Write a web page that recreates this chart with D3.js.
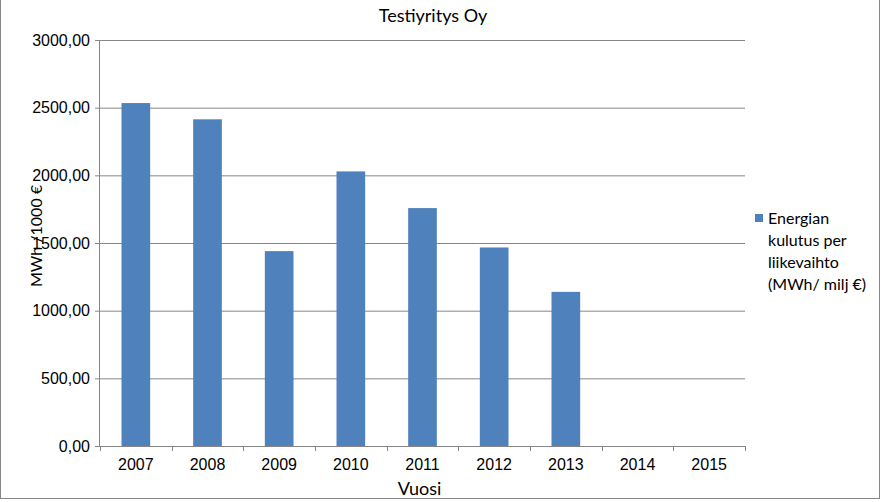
<!DOCTYPE html>
<html>
<head>
<meta charset="utf-8">
<script src="https://cdn.jsdelivr.net/npm/d3@7"></script>
<style>
  body { margin: 0; background: #fff; }
  svg { display: block; font-family: Lato, "Liberation Sans", sans-serif; }
  .axis text { fill: #000; font-size: 16px; }
  .axis path, .axis line { stroke: #868686; }
  .grid line { stroke: #868686; }
  .grid path { display: none; }
</style>
</head>
<body>
<div id="chart"></div>
<script>
// Vuodet ja arvot (MWh / milj €)
const years = ['2007', '2008', '2009', '2010', '2011', '2012', '2013', '2014', '2015'];
const values = [2534, 2414, 1440, 2029, 1758, 1467, 1139, null, null];
const yTicks = [0, 500, 1000, 1500, 2000, 2500, 3000];
const seriesName = ['Energian', 'kulutus per', 'liikevaihto', '(MWh/ milj €)'];

const W = 888, H = 502;
const margin = { top: 40, right: 143, bottom: 56, left: 100 };
const width = W - margin.left - margin.right;
const height = 446 - margin.top;

const svg = d3.select('#chart').append('svg')
  .attr('width', W)
  .attr('height', H);

// Kehys
svg.append('rect')
  .attr('x', 0.5).attr('y', -5)
  .attr('width', 879).attr('height', 503.5)
  .attr('fill', 'none')
  .attr('stroke', '#868686');

const g = svg.append('g')
  .attr('transform', `translate(${margin.left},${margin.top})`);

const x = d3.scaleBand()
  .domain(years)
  .range([0, width])
  .paddingInner(0.6)
  .paddingOuter(0.3);

const y = d3.scaleLinear()
  .domain([0, 3000])
  .range([height, 0]);

// Apuviivat
g.append('g')
  .attr('class', 'grid')
  .call(d3.axisLeft(y).tickValues(yTicks).tickSize(-width).tickFormat(''));

// Pylväät
g.selectAll('.bar')
  .data(years.map((d, i) => ({ year: d, value: values[i] })).filter(d => d.value != null))
  .enter()
  .append('rect')
  .attr('class', 'bar')
  .attr('x', d => x(d.year))
  .attr('width', x.bandwidth())
  .attr('y', d => y(d.value))
  .attr('height', d => height - y(d.value))
  .attr('fill', '#4f81bd');

// Akselit
const fmt = v => d3.format('.2f')(v).replace('.', ',');
g.append('g')
  .attr('class', 'axis')
  .call(d3.axisLeft(y).tickValues(yTicks).tickSize(5).tickPadding(5).tickFormat(fmt))
  .call(a => a.select('.domain').attr('d', `M-0.5,${height}V0`));

const xAxis = g.append('g')
  .attr('class', 'axis')
  .attr('transform', `translate(0,${height})`)
  .call(d3.axisBottom(x).tickSize(0).tickPadding(13));
xAxis.select('.domain').attr('d', `M0,0.5H${width}`);
// Luokkarajojen merkit
xAxis.selectAll('.sep')
  .data(d3.range(years.length + 1))
  .enter()
  .append('line')
  .attr('class', 'sep')
  .attr('x1', i => Math.round(i * x.step()) + 0.5)
  .attr('x2', i => Math.round(i * x.step()) + 0.5)
  .attr('y1', 0)
  .attr('y2', 5);

// Otsikot
svg.append('text')
  .attr('x', 433).attr('y', 22)
  .attr('text-anchor', 'middle')
  .attr('font-size', 18)
  .text('Testiyritys Oy');

svg.append('text')
  .attr('x', margin.left + width / 2 - 3).attr('y', 495)
  .attr('text-anchor', 'middle')
  .attr('font-size', 18)
  .text('Vuosi');

svg.append('text')
  .attr('transform', 'translate(42,236) rotate(-90)')
  .attr('text-anchor', 'middle')
  .attr('font-size', 16)
  .text('MWh /1000 €');

// Selite
const legend = svg.append('g').attr('transform', 'translate(755,214)');
legend.append('rect')
  .attr('width', 8).attr('height', 8)
  .attr('fill', '#4f81bd');
legend.selectAll('text')
  .data(seriesName)
  .enter()
  .append('text')
  .attr('x', 13)
  .attr('y', (d, i) => 10 + i * 22)
  .attr('font-size', 16)
  .text(d => d);
</script>
</body>
</html>
